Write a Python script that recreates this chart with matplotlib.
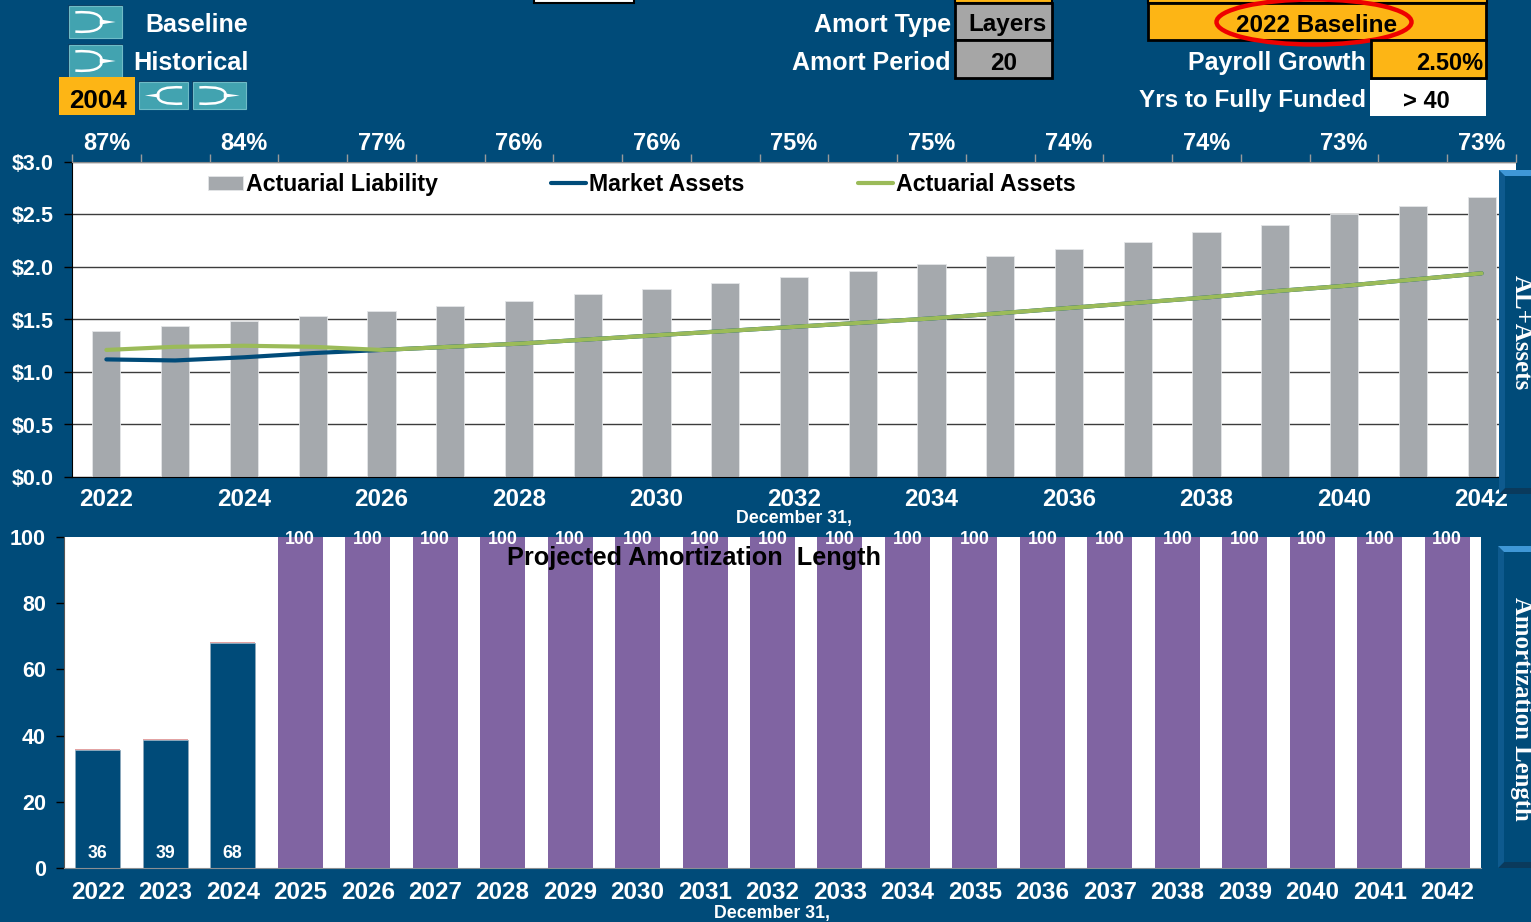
import matplotlib
matplotlib.use('Agg')
import matplotlib.pyplot as plt
import numpy as np
from matplotlib.patches import Rectangle, Ellipse, PathPatch, Polygon
from matplotlib.path import Path

plt.rcParams['font.family'] = ['Liberation Sans', 'DejaVu Sans']
plt.rcParams['font.weight'] = 'bold'

# top chart
years = list(range(2022, 2043))
liability = [1.39, 1.44, 1.49, 1.53, 1.58, 1.63, 1.68, 1.74, 1.79, 1.85, 1.90,
             1.96, 2.03, 2.10, 2.17, 2.24, 2.33, 2.40, 2.50, 2.58, 2.67]
market = [1.12, 1.11, 1.14, 1.18, 1.21, 1.24, 1.27, 1.31, 1.35, 1.39, 1.43,
          1.47, 1.51, 1.56, 1.61, 1.66, 1.71, 1.77, 1.82, 1.88, 1.94]
actuarial = [1.21, 1.24, 1.25, 1.24, 1.21, 1.24, 1.27, 1.31, 1.35, 1.39, 1.43,
             1.47, 1.51, 1.56, 1.61, 1.66, 1.71, 1.77, 1.82, 1.88, 1.94]
funded = ['87%', '84%', '77%', '76%', '76%', '75%', '75%', '74%', '74%', '73%', '73%']
yticks = [0, 0.5, 1.0, 1.5, 2.0, 2.5, 3.0]
ylabels = ['$0.0', '$0.5', '$1.0', '$1.5', '$2.0', '$2.5', '$3.0']

# bottom chart
amort_finite = [35.5, 38.8, 68.1, 0, 0, 0, 0, 0, 0, 0, 0, 0, 0, 0, 0, 0, 0, 0, 0, 0, 0]
amort_never = [0, 0, 0, 100, 100, 100, 100, 100, 100, 100, 100, 100, 100, 100,
               100, 100, 100, 100, 100, 100, 100]
amort_sliver = [0.4, 0.3, 0.3, 0, 0, 0, 0, 0, 0, 0, 0, 0, 0, 0, 0, 0, 0, 0, 0, 0, 0]

W, H = 1531, 922
BG = '#004B79'
TEAL = '#42A3B0'
ORANGE = '#FDB515'
GREY = '#A5A9AD'
PURPLE = '#8064A2'
GREEN = '#9BBB59'


def rect_px(l, t, r, b):
    return [l / W, 1 - b / H, (r - l) / W, (b - t) / H]


fig = plt.figure(figsize=(W / 100, H / 100), dpi=100, facecolor=BG)

# ---- top chart
ax = fig.add_axes(rect_px(72, 162, 1516, 477))
x = np.arange(len(years))
ax.set_axisbelow(True)
ax.yaxis.grid(True, color='#3c3c3c', lw=1)
bars = ax.bar(x, liability, width=0.41, color=GREY, edgecolor='#E4E6E8', linewidth=0.6, label='Actuarial Liability')
line1, = ax.plot(x, market, color=BG, lw=3, solid_capstyle='round', label='Market Assets')
line2, = ax.plot(x, actuarial, color=GREEN, lw=3, solid_capstyle='round', label='Actuarial Assets')
ax.set_xlim(-0.5, 20.5)
ax.set_ylim(0, 3)
ax.set_yticks(yticks, ylabels, color='white', fontsize=15.5)
ax.set_xticks(x[::2], [str(y) for y in years[::2]], color='white', fontsize=17.5)
ax.tick_params(axis='x', which='major', length=0, pad=8)
ax.tick_params(axis='y', length=6, width=1, color='black', pad=7)
ax.set_xticks(np.arange(-0.5, 21, 1), minor=True)
ax.tick_params(axis='x', which='minor', top=True, bottom=False, length=6, width=1, color='#9a9a9a')
ax.spines['right'].set_visible(False)
ax.spines['top'].set_color('#8c8c8c')
ax.spines['left'].set_color('black')
ax.spines['bottom'].set_color('black')
sec = ax.secondary_xaxis('top')
sec.set_xticks(x[::2], funded, color='white', fontsize=17)
sec.tick_params(length=0, pad=5)
sec.spines['top'].set_visible(False)
ax.legend(handles=[bars, line1, line2], loc='center left', bbox_to_anchor=(208 / W, 1 - 184.5 / H),
          bbox_transform=fig.transFigure, ncol=3, frameon=False, fontsize=16.7, borderpad=0, borderaxespad=0,
          handlelength=1.52, handletextpad=0.12, columnspacing=4.88, handleheight=0.55)

# ---- bottom chart
ax2 = fig.add_axes(rect_px(64, 537, 1481, 868))
ax2.bar(x, amort_finite, width=0.667, color=BG, edgecolor='#8FA9BC', linewidth=0.5)
ax2.bar(x, amort_sliver, width=0.667, bottom=amort_finite, color='#E2A3A3', linewidth=0)
ax2.bar(x, amort_never, width=0.667, color=PURPLE)
ax2.set_xlim(-0.5, 20.5)
ax2.set_ylim(0, 100)
ax2.set_yticks(range(0, 101, 20))
ax2.tick_params(axis='y', length=6, width=1, color='black', labelcolor='white', labelsize=15.5, pad=7)
ax2.set_xticks(x, [str(y) for y in years], color='white', fontsize=17.5)
ax2.tick_params(axis='x', length=0, pad=9)
for s in ['top', 'right']:
    ax2.spines[s].set_visible(False)
ax2.spines['left'].set_color('#555555')
ax2.spines['bottom'].set_color('#8a8f93')
for i, v in enumerate(amort_finite):
    if v > 0:
        ax2.text(i, 4.3, f'{v:.0f}', color='white', ha='center', va='center', fontsize=12.8)
for i, v in enumerate(amort_never):
    if v > 0:
        ax2.text(i, v - 0.8, str(v), color='white', ha='center', va='center', fontsize=12.8, clip_on=False)

# ---- overlay for the panel around the charts, in pixels
ov = fig.add_axes([0, 0, 1, 1], zorder=5)
ov.set_xlim(0, W)
ov.set_ylim(H, 0)
ov.axis('off')
ov.patch.set_alpha(0)


def box(l, t, r, b, color, edge=None, lw=0):
    ov.add_patch(Rectangle((l, t), r - l, b - t, facecolor=color, edgecolor=edge or 'none', linewidth=lw))


def label(px, py, s, color='white', ha='center', size=18, **kw):
    ov.text(px, py + 2, s, color=color, ha=ha, va='center', fontsize=size, **kw)


def button(l, t, r, b, flip=False):
    box(l - 1, t - 1, r + 1, b + 1, '#0B3F63')
    box(l, t, r, b, TEAL, '#6FBCC7', 0.8)
    w, h = r - l, b - t

    def fx(f):
        return (r - f * w) if flip else (l + f * w)
    arc = Path([(fx(0.12), t + 0.2 * h), (fx(0.62), t + 0.14 * h), (fx(0.62), t + 0.5 * h),
                (fx(0.62), t + 0.86 * h), (fx(0.12), t + 0.8 * h)],
               [Path.MOVETO, Path.CURVE3, Path.CURVE3, Path.CURVE3, Path.CURVE3])
    ov.add_patch(PathPatch(arc, facecolor='none', edgecolor='white', lw=1.8))
    ov.add_patch(Polygon([(fx(0.58), t + 0.42 * h), (fx(0.88), t + 0.5 * h), (fx(0.58), t + 0.58 * h)],
                         closed=True, facecolor='white', edgecolor='none'))


def side_panel(l, t, r, b):
    box(l, t, r, b, BG)
    ov.add_patch(Polygon([(l, b), (l + 6, b - 6), (r, b - 6), (r, b)], closed=True, facecolor='#0A3A5C', edgecolor='none'))
    ov.add_patch(Polygon([(l, t), (l + 6, t + 6), (l + 6, b - 6), (l, b)], closed=True, facecolor='#0E5A8E', edgecolor='none'))
    ov.add_patch(Polygon([(l, t), (r, t), (r, t + 6), (l + 6, t + 6)], closed=True, facecolor='#3F97D6', edgecolor='none'))


button(69, 6, 122, 38)
button(69, 45, 122, 77)
button(139, 82, 188, 109, flip=True)
button(193, 82, 246, 109)
label(145, 23, 'Baseline', ha='left')
label(133, 61, 'Historical', ha='left', size=18.3)
box(59, 77, 135, 115, ORANGE)
label(98, 99, '2004', color='black', size=18.7)

box(534, -2, 634, 3, 'white', 'black', 1.5)
box(955, -2, 1052, 3, ORANGE, 'black', 1.5)
box(1148, -2, 1487, 3, ORANGE, 'black', 1.5)

label(951, 23, 'Amort Type', ha='right')
label(951, 61, 'Amort Period', ha='right')
box(955, 3, 1052, 40, '#A6A6A6', 'black', 2)
box(955, 40, 1052, 78, '#A6A6A6', 'black', 2)
label(1008, 23, 'Layers', color='black', size=17.5)
label(1004, 61, '20', color='black', size=17.5)

box(1148, 3, 1486, 40, ORANGE, 'black', 2)
label(1317, 24, '2022 Baseline', color='black', size=17.5)
ov.add_patch(Ellipse((1314, 22), 195, 45, facecolor='none', edgecolor='#EE0000', lw=3.2))
label(1366, 61, 'Payroll Growth', ha='right')
box(1371, 40, 1486, 78, ORANGE, 'black', 2)
label(1483, 62, '2.50%', color='black', ha='right', size=17)
label(1366, 99, 'Yrs to Fully Funded', ha='right', size=17.5)
box(1370, 80, 1486, 116, 'white')
label(1426, 100, '> 40', color='black', size=17)

label(794, 516, 'December 31,', size=12.8)
label(772, 911, 'December 31,', size=12.8)
label(694, 556, 'Projected Amortization  Length', color='black', size=18.2)

side_panel(1499, 170, 1533, 494)
side_panel(1498, 546, 1533, 868)
ov.text(1521, 333, 'AL+Assets', color='white', rotation=270, ha='center', va='center', fontsize=18,
        family=['Liberation Serif', 'DejaVu Serif'])
ov.text(1521, 709, 'Amortization Length', color='white', rotation=270, ha='center', va='center', fontsize=17.8,
        family=['Liberation Serif', 'DejaVu Serif'])

fig.savefig('out.png', dpi=100, facecolor=BG)
